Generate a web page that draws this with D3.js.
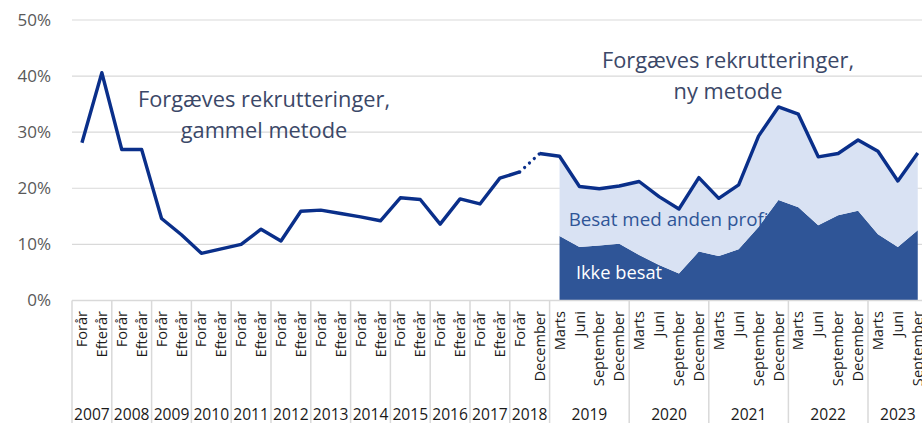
<!DOCTYPE html>
<html>
<head>
<meta charset="utf-8">
<script src="https://cdn.jsdelivr.net/npm/d3@7"></script>
<style>
  body { margin: 0; background: #fff; }
  svg { display: block; font-family: "Open Sans", "Noto Sans", sans-serif; }
</style>
</head>
<body>
<div id="chart"></div>
<script>
// year groups and the period labels inside each year
const years = ['2007','2008','2009','2010','2011','2012','2013','2014','2015','2016','2017','2018','2019','2020','2021','2022','2023'];
const yearPeriods = [
  ['Forår','Efterår'],['Forår','Efterår'],['Forår','Efterår'],['Forår','Efterår'],
  ['Forår','Efterår'],['Forår','Efterår'],['Forår','Efterår'],['Forår','Efterår'],
  ['Forår','Efterår'],['Forår','Efterår'],['Forår','Efterår'],
  ['Forår','December'],
  ['Marts','Juni','September','December'],['Marts','Juni','September','December'],
  ['Marts','Juni','September','December'],['Marts','Juni','September','December'],
  ['Marts','Juni','September']
];

// gammel metode, 2007 Forår .. 2018 Forår (%)
const oldMethod = [28.1, 40.6, 26.9, 26.9, 14.6, 11.7, 8.4, 9.2, 10.0, 12.7, 10.6, 15.9,
  16.1, 15.5, 14.9, 14.2, 18.3, 18.0, 13.6, 18.1, 17.2, 21.8, 22.9];
// ny metode, 2018 December .. 2023 September (%)
const newMethod = [26.2, 25.7, 20.3, 19.9, 20.4, 21.2, 18.5, 16.3, 21.9, 18.2, 20.6, 29.3,
  34.5, 33.2, 25.6, 26.2, 28.6, 26.6, 21.3, 26.3];
// stacked parts, 2019 Marts .. 2023 September (%)
const ikkeBesat = [11.5, 9.5, 9.8, 10.1, 8.1, 6.3, 4.8, 8.7, 7.9, 9.1, 13.1, 17.9, 16.6,
  13.4, 15.2, 16.0, 11.8, 9.5, 12.5];
const besatAnden = [14.2, 10.8, 10.1, 10.3, 13.1, 12.2, 11.5, 13.2, 10.3, 11.5, 16.2, 16.6,
  16.6, 12.2, 11.0, 12.6, 14.8, 11.8, 13.8];
const yTicks = [0, 10, 20, 30, 40, 50];

const main = () => {
  const width = 922, height = 423;
  const plot = { left: 72, top: 20, bottom: 300.4, catWidth: 19.9 };

  // flatten categories
  const cats = [];
  years.forEach((yr, gi) => yearPeriods[gi].forEach((p, j) => cats.push({ key: `${yr}-${j}`, year: yr, label: p })));

  const x = d3.scaleBand()
    .domain(cats.map(d => d.key))
    .range([plot.left, plot.left + cats.length * plot.catWidth])
    .padding(0);
  const cx = k => x(k) + x.bandwidth() / 2;
  const y = d3.scaleLinear().domain([0, 50]).range([plot.bottom, plot.top]);

  const svg = d3.select('#chart').append('svg')
    .attr('width', width).attr('height', height);

  // gridlines
  svg.append('g').selectAll('line.grid')
    .data(yTicks.filter(t => t > 0))
    .join('line')
    .attr('class', 'grid')
    .attr('x1', plot.left).attr('x2', width)
    .attr('y1', d => y(d)).attr('y2', d => y(d))
    .attr('stroke', '#d9d9d9').attr('stroke-width', 1.2);

  // y labels
  svg.append('g').selectAll('text.ytick')
    .data(yTicks)
    .join('text')
    .attr('class', 'ytick')
    .attr('x', 51).attr('y', d => y(d))
    .attr('dy', '0.35em')
    .attr('text-anchor', 'end')
    .attr('font-size', 17)
    .attr('fill', '#595959')
    .text(d => `${d}%`);

  // stacked area (ny metode split)
  const areaCats = cats.slice(cats.length - ikkeBesat.length);
  const stackRows = areaCats.map((c, i) => ({ key: c.key, ikke: ikkeBesat[i], besat: besatAnden[i] }));
  const series = d3.stack().keys(['ikke', 'besat'])(stackRows);
  const area = d3.area()
    .x(d => cx(d.data.key))
    .y0(d => y(d[0]))
    .y1(d => y(d[1]));
  const areaColors = { ikke: '#2f5597', besat: '#d9e2f3' };
  svg.append('g').selectAll('path.area')
    .data(series)
    .join('path')
    .attr('class', 'area')
    .attr('d', area)
    .attr('fill', d => areaColors[d.key]);

  // x axis line
  svg.append('line')
    .attr('x1', plot.left).attr('x2', width)
    .attr('y1', plot.bottom).attr('y2', plot.bottom)
    .attr('stroke', '#d9d9d9').attr('stroke-width', 1.5);

  // lines
  const line = d3.line().x(d => cx(d.key)).y(d => y(d.v));
  const oldPts = oldMethod.map((v, i) => ({ key: cats[i].key, v }));
  const newStart = cats.length - newMethod.length;
  const newPts = newMethod.map((v, i) => ({ key: cats[newStart + i].key, v }));
  const lineColor = '#0a2f8a';

  svg.append('path').attr('d', line(oldPts))
    .attr('fill', 'none').attr('stroke', lineColor).attr('stroke-width', 3.4)
    .attr('stroke-linejoin', 'round');
  svg.append('path').attr('d', line(newPts))
    .attr('fill', 'none').attr('stroke', lineColor).attr('stroke-width', 3.4)
    .attr('stroke-linejoin', 'round');
  // dotted link between methods
  svg.append('path').attr('d', line([oldPts[oldPts.length - 1], newPts[0]]))
    .attr('fill', 'none').attr('stroke', lineColor).attr('stroke-width', 3.2)
    .attr('stroke-linecap', 'round').attr('stroke-dasharray', '0.1,6.5');

  // annotations
  const noteColor = '#3b4868';
  const notes = svg.append('g').attr('font-size', 21.8).attr('fill', noteColor).attr('text-anchor', 'middle');
  notes.append('text').attr('x', 264).attr('y', 107).text('Forgæves rekrutteringer,');
  notes.append('text').attr('x', 264).attr('y', 138).text('gammel metode');
  notes.append('text').attr('x', 728).attr('y', 68).text('Forgæves rekrutteringer,');
  notes.append('text').attr('x', 728).attr('y', 99).text('ny metode');

  svg.append('text').attr('x', 671).attr('y', 226).attr('text-anchor', 'middle')
    .attr('font-size', 18.8).attr('fill', '#2f5597').text('Besat med anden profil');
  svg.append('text').attr('x', 619).attr('y', 279).attr('text-anchor', 'middle')
    .attr('font-size', 18.3).attr('fill', '#ffffff').text('Ikke besat');

  // category axis: period labels rotated
  const axis = svg.append('g');
  axis.selectAll('text.period')
    .data(cats)
    .join('text')
    .attr('class', 'period')
    .attr('transform', d => `translate(${cx(d.key)},311) rotate(-90)`)
    .attr('text-anchor', 'end')
    .attr('dy', '0.35em')
    .attr('font-size', 14.6)
    .attr('fill', '#1a1a1a')
    .text(d => d.label);

  // year groups
  let acc = 0;
  const groups = years.map((yr, gi) => {
    const first = cats[acc].key;
    const last = cats[acc + yearPeriods[gi].length - 1].key;
    acc += yearPeriods[gi].length;
    return { year: yr, x0: x(first), x1: x(last) + x.bandwidth() };
  });

  axis.selectAll('line.sep')
    .data(groups)
    .join('line')
    .attr('class', 'sep')
    .attr('x1', d => d.x0).attr('x2', d => d.x0)
    .attr('y1', plot.bottom).attr('y2', height)
    .attr('stroke', '#d9d9d9').attr('stroke-width', 1.5);

  axis.selectAll('text.year')
    .data(groups)
    .join('text')
    .attr('class', 'year')
    .attr('x', d => (d.x0 + d.x1) / 2)
    .attr('y', 419.5)
    .attr('text-anchor', 'middle')
    .attr('font-size', 15.6)
    .attr('fill', '#1a1a1a')
    .text(d => d.year);
};

main();
</script>
</body>
</html>
